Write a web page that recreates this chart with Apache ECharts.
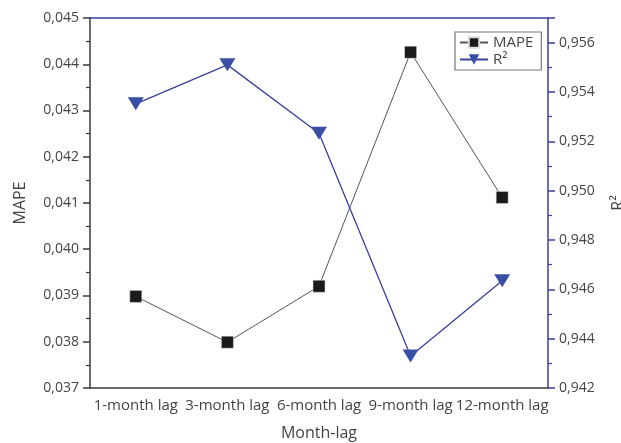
<!DOCTYPE html>
<html><head><meta charset="utf-8">
<script src="https://cdn.jsdelivr.net/npm/echarts@6/dist/echarts.min.js"></script>
<style>html,body{margin:0;padding:0;background:#fff}#c{width:621px;height:443px}</style>
</head><body><div id="c"></div>
<script>
const categories = ['1-month lag', '3-month lag', '6-month lag', '9-month lag', '12-month lag'];
const mapeValues = [0.03898, 0.03799, 0.03920, 0.04426, 0.04112];
const r2Values = [0.95352, 0.95510, 0.95233, 0.94330, 0.94635];

const FONT = '"Open Sans", "Noto Sans", sans-serif';
const TXT = '#444';
const BLUE = '#3b3f9a';
const DARK = '#3a3a3a';
const fmt = v => v.toFixed(3).replace('.', ',');

const chart = echarts.init(document.getElementById('c'));
chart.setOption({
  animation: false,
  textStyle: { fontFamily: FONT },
  grid: { left: 90, right: 73, top: 18, bottom: 55, containLabel: false, outerBoundsMode: 'none' },
  legend: {
    orient: 'vertical', left: 455, top: 32,
    itemWidth: 28, itemHeight: 13, itemGap: 2,
    padding: [3, 8, 3, 4],
    borderColor: '#777', borderWidth: 1.2, borderRadius: 0,
    textStyle: { color: TXT, fontSize: 15, fontFamily: FONT },
    data: ['MAPE', 'R²']
  },
  xAxis: [
    {
      type: 'category', data: categories, position: 'bottom',
      name: 'Month-lag', nameLocation: 'middle', nameGap: 37,
      nameTextStyle: { color: TXT, fontSize: 16, fontFamily: FONT },
      axisLine: { lineStyle: { color: DARK, width: 1.5 } },
      axisTick: { alignWithLabel: true, length: 6, lineStyle: { color: DARK, width: 1.5 } },
      axisLabel: { color: TXT, fontSize: 15, margin: 10, interval: 0 },
      splitLine: { show: false }
    },
    {
      type: 'category', data: categories, position: 'bottom',
      axisLine: { show: false },
      axisTick: { length: 4, lineStyle: { color: DARK, width: 1.2 } },
      axisLabel: { show: false }, splitLine: { show: false }
    },
    {
      type: 'category', data: categories, position: 'top',
      axisLine: { lineStyle: { color: BLUE, width: 1.5 } },
      axisTick: { show: false }, axisLabel: { show: false }, splitLine: { show: false }
    }
  ],
  yAxis: [
    {
      type: 'value', min: 0.037, max: 0.045, interval: 0.001, position: 'left',
      name: 'MAPE', nameLocation: 'middle', nameGap: 62, nameRotate: 90,
      nameTextStyle: { color: TXT, fontSize: 16, fontFamily: FONT },
      axisLine: { show: true, lineStyle: { color: DARK, width: 1.5 } },
      axisTick: { show: true, length: 7, lineStyle: { color: DARK, width: 1.5 } },
      minorTick: { show: true, splitNumber: 2, length: 4, lineStyle: { color: DARK, width: 1.2 } },
      axisLabel: { color: TXT, fontSize: 14, margin: 11, formatter: fmt },
      splitLine: { show: false }
    },
    {
      type: 'value', min: 0.942, max: 0.957, interval: 0.002, position: 'right',
      name: 'R²', nameLocation: 'middle', nameGap: 62, nameRotate: 90,
      nameTextStyle: { color: TXT, fontSize: 16, fontFamily: FONT },
      axisLine: { show: true, lineStyle: { color: BLUE, width: 1.5 } },
      axisTick: { show: true, length: 7, lineStyle: { color: BLUE, width: 1.5 } },
      minorTick: { show: true, splitNumber: 2, length: 4, lineStyle: { color: BLUE, width: 1.2 } },
      axisLabel: { color: TXT, fontSize: 14, margin: 11,
        formatter: v => (Math.abs(v - 0.957) < 1e-6 ? '' : fmt(v)) },
      splitLine: { show: false }
    }
  ],
  series: [
    {
      name: 'MAPE', type: 'line', xAxisIndex: 0, yAxisIndex: 0, data: mapeValues,
      symbol: 'rect', symbolSize: 12,
      lineStyle: { color: '#555', width: 1 },
      itemStyle: { color: '#1a1a1a', borderColor: '#ddd', borderWidth: 0.5 }
    },
    {
      name: 'R²', type: 'line', xAxisIndex: 0, yAxisIndex: 1, data: r2Values,
      symbol: 'triangle', symbolRotate: 180, symbolSize: [16, 13],
      lineStyle: { color: BLUE, width: 1.3 },
      itemStyle: { color: '#3a4ea5', borderColor: '#3a4ea5', borderWidth: 0 }
    }
  ]
});
</script>
</body></html>
